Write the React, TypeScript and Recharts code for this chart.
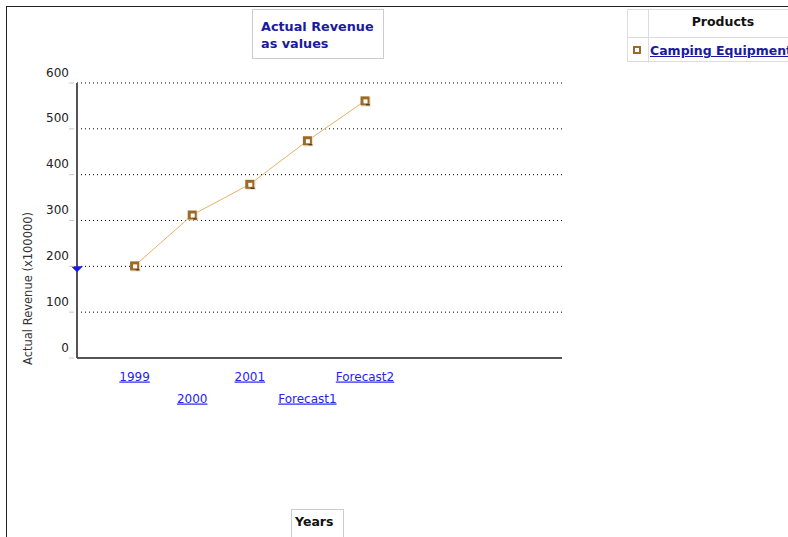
import {
  LineChart,
  Line,
  XAxis,
  YAxis,
  CartesianGrid,
  ReferenceDot,
  Label,
} from 'recharts'

const years = ['1999', '2000', '2001', 'Forecast1', 'Forecast2']
const revenue = [201, 312, 379, 474, 561]
const yTicks = [0, 100, 200, 300, 400, 500, 600]
const markerValue = 200

const data = years.map((year, i) => ({ pos: i + 1, year, revenue: revenue[i] }))

const FONT = '"DejaVu Sans", Verdana, sans-serif'

// y tick: small grey dash left of axis, value raised above its gridline
const YTick = (props: any) => {
  const { x, y, payload } = props
  return (
    <g>
      <line x1={x - 8} x2={x - 3} y1={y} y2={y} stroke="#c8c8c8" />
      <text x={x - 8} y={y - 10} textAnchor="end" dominantBaseline="middle" fontSize={12} fill="#222" fontFamily={FONT}>
        {payload.value}
      </text>
    </g>
  )
}

// x tick: blue underlined links, alternating on two rows
const XTick = (props: any) => {
  const { x, y, payload, index } = props
  const label = years[payload.value - 1]
  return (
    <text
      x={x}
      y={y + (index % 2 === 0 ? 19 : 41)}
      textAnchor="middle"
      dominantBaseline="middle"
      fontSize={12}
      fill="#2424f0"
      fontFamily={FONT}
      textDecoration="underline"
    >
      {label}
    </text>
  )
}

const Marker = (props: any) => {
  const { cx, cy } = props
  if (cx == null || cy == null) return null
  return (
    <g>
      <rect x={cx - 4} y={cy - 4} width={10} height={10} fill="#e8d8c0" opacity={0.6} />
      <rect x={cx - 4.5} y={cy - 4.5} width={9} height={9} fill="#9c6a26" />
      <rect x={cx - 1.5} y={cy - 1.5} width={4} height={4} fill="#fff" />
      <rect x={cx + 1} y={cy + 3.5} width={4} height={1} fill="#3a2a10" />
    </g>
  )
}

const Triangle = (props: any) => {
  const { cx, cy } = props
  return <polygon points={`${cx - 6},${cy} ${cx + 6},${cy} ${cx},${cy + 6}`} fill="#1818e8" />
}

export default function App() {
  return (
    <div style={{ position: 'absolute', left: 0, top: 0, width: 788, height: 537, overflow: 'hidden', background: '#fff', fontFamily: FONT }}>
      <div style={{ position: 'absolute', left: 6, top: 6, width: 900, height: 700, border: '1.5px solid #222' }} />

      <LineChart
        width={788}
        height={537}
        data={data}
        margin={{ top: 83, right: 226, bottom: 129, left: 7 }}
        style={{ position: 'absolute', left: 0, top: 0 }}
      >
        <CartesianGrid vertical={false} stroke="#000" strokeDasharray="1 3" />
        <XAxis
          dataKey="pos"
          type="number"
          domain={[0, 8.42]}
          ticks={[1, 2, 3, 4, 5]}
          interval={0}
          height={50}
          tickSize={0}
          tickMargin={0}
          tick={<XTick />}
          axisLine={{ stroke: '#555', strokeWidth: 2 }}
          tickLine={false}
        />
        <YAxis
          domain={[0, 600]}
          ticks={yTicks}
          width={70}
          tickSize={0}
          tickMargin={0}
          tick={<YTick />}
          axisLine={{ stroke: '#555', strokeWidth: 2 }}
          tickLine={false}
        >
          <Label
            content={({ viewBox }: any) => (
              <text
                transform={`translate(${viewBox.x + 21}, ${viewBox.y + viewBox.height + 7}) rotate(-90)`}
                textAnchor="start"
                dominantBaseline="middle"
                fontSize={11.5}
                fill="#333"
                fontFamily={FONT}
              >
                Actual Revenue (x100000)
              </text>
            )}
          />
        </YAxis>
        <Line
          dataKey="revenue"
          stroke="#e6b266"
          strokeWidth={1}
          dot={<Marker />}
          activeDot={false}
          isAnimationActive={false}
        />
        <ReferenceDot x={0} y={markerValue} ifOverflow="visible" shape={<Triangle />} />
      </LineChart>

      <div style={{ position: 'absolute', left: 252, top: 9, width: 132, height: 50, border: '1px solid #ccc', color: '#1a1a9e', fontWeight: 'bold', fontSize: 12.8, lineHeight: '17px', padding: '8px 0 0 8px', boxSizing: 'border-box' }}>
        Actual Revenue
        <br />
        as values
      </div>

      <div style={{ position: 'absolute', left: 627, top: 9, width: 175, height: 53, border: '1px solid #ddd', boxSizing: 'border-box' }}>
        <div style={{ position: 'absolute', left: 20, top: 0, width: 1, height: 53, background: '#ddd' }} />
        <div style={{ position: 'absolute', left: 0, top: 27, width: 175, height: 1, background: '#ddd' }} />
        <div style={{ position: 'absolute', left: 21, top: 4, width: 148, textAlign: 'center', fontWeight: 'bold', fontSize: 12.5, color: '#111' }}>
          Products
        </div>
        <div style={{ position: 'absolute', left: 5, top: 36, width: 8, height: 8, background: '#fff', border: '2.5px solid #9c6a26', boxSizing: 'border-box' }} />
        <div style={{ position: 'absolute', left: 22, top: 33, fontWeight: 'bold', fontSize: 12.5, color: '#1a1aa0', textDecoration: 'underline', whiteSpace: 'nowrap' }}>
          Camping Equipment
        </div>
      </div>

      <div style={{ position: 'absolute', left: 291, top: 509, width: 53, height: 40, border: '1px solid #ccc', boxSizing: 'border-box', fontWeight: 'bold', fontSize: 12.5, color: '#111', padding: '4px 0 0 3px' }}>
        Years
      </div>
    </div>
  )
}
